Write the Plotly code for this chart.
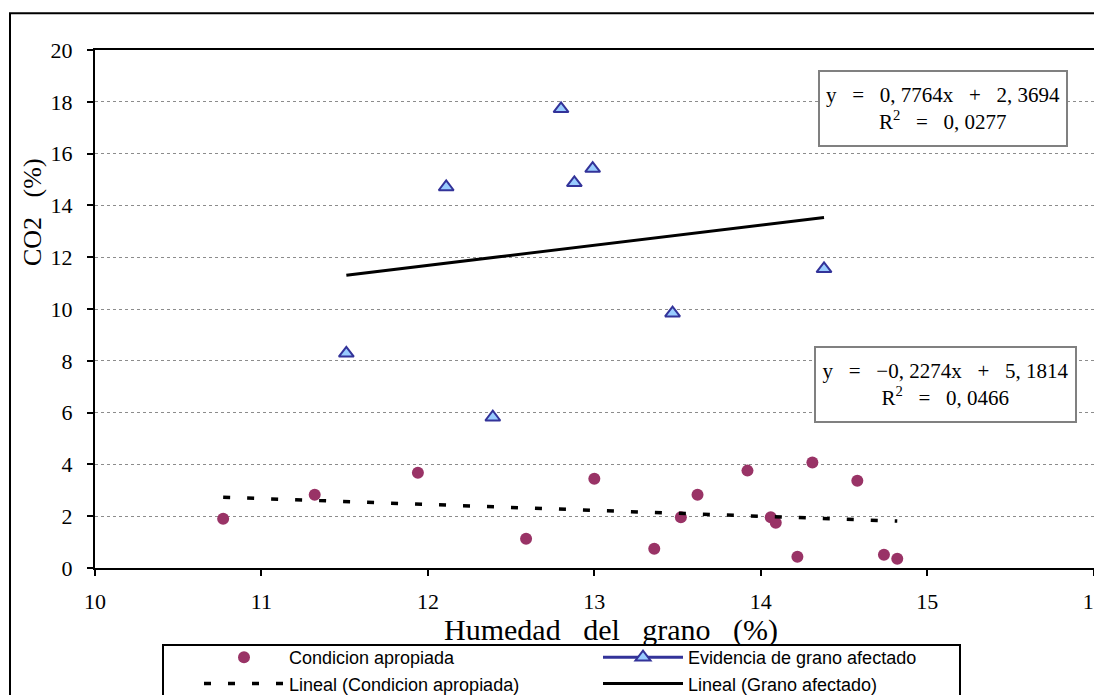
import plotly.graph_objects as go

# ---------------- data ----------------
hum_apropiada = [10.77, 11.32, 11.94, 12.59, 13.00, 13.36, 13.52, 13.62,
                 13.92, 14.06, 14.09, 14.22, 14.31, 14.58, 14.74, 14.82]
co2_apropiada = [1.90, 2.83, 3.68, 1.13, 3.45, 0.74, 1.96, 2.83,
                 3.76, 1.96, 1.75, 0.43, 4.07, 3.37, 0.51, 0.36]

hum_afectado = [11.51, 12.11, 12.39, 12.80, 12.88, 12.99, 13.47, 14.38]
co2_afectado = [8.29, 14.71, 5.82, 17.73, 14.87, 15.42, 9.84, 11.55]

# linear trend lines as printed on the chart
trend_apropiada = {"slope": -0.2274, "intercept": 5.1814, "r2": 0.0466}
trend_afectado = {"slope": 0.7764, "intercept": 2.3694, "r2": 0.0277}

x_ticks = [10, 11, 12, 13, 14, 15, 16]
y_ticks = [0, 2, 4, 6, 8, 10, 12, 14, 16, 18, 20]

names = ["Condicion apropiada", "Evidencia de grano afectado",
         "Lineal (Condicion apropiada)", "Lineal (Grano afectado)"]
x_title = "Humedad del grano (%)"
y_title = "CO2 (%)"

# ---------------- geometry helpers ----------------
W, H = 1094, 695
L, R, T, B = 95, 0, 50, 127
PW, PH = W - L - R, H - T - B


def px(x):
    return (x - L) / PW


def py(y):
    return (H - B - y) / PH


def trend_xy(xs, tr):
    xr = [min(xs), max(xs)]
    return xr, [tr["slope"] * v + tr["intercept"] for v in xr]


def num(v):
    s = f"{abs(v):.4f}".replace(".", ",\u00a0")
    return ("\u2212" if v < 0 else "") + s


def eq_text(tr):
    sp = "\u00a0\u00a0\u00a0"
    return (f"y{sp}={sp}{num(tr['slope'])}x{sp}+{sp}{num(tr['intercept'])}"
            f"<br>R<sup>2</sup>{sp}={sp}{num(tr['r2'])}")


SERIF = "Liberation Serif, Times New Roman, serif"
SANS = "Liberation Sans, Arial, sans-serif"

TRI = dict(symbol="triangle-up", size=13, color="#99CCFF",
           line=dict(color="#333399", width=2))

fig = go.Figure()

fig.add_trace(go.Scatter(
    x=hum_apropiada, y=co2_apropiada, mode="markers", name=names[0],
    marker=dict(symbol="circle", size=12, color="#993366",
                line=dict(width=0))))

# legend entry for the afectado series (Excel shows line + marker)
fig.add_trace(go.Scatter(
    x=[None], y=[None], mode="lines+markers", name=names[1],
    line=dict(color="#333399", width=3), marker=TRI))

xa, ya = trend_xy(hum_apropiada, trend_apropiada)
fig.add_trace(go.Scatter(
    x=xa, y=ya, mode="lines", name=names[2],
    line=dict(color="black", width=3.5, dash="7px,17px")))

xg, yg = trend_xy(hum_afectado, trend_afectado)
fig.add_trace(go.Scatter(
    x=xg, y=yg, mode="lines", name=names[3],
    line=dict(color="black", width=3)))

fig.add_trace(go.Scatter(
    x=hum_afectado, y=co2_afectado, mode="markers", name=names[1],
    showlegend=False, marker=TRI))

annotations = [
    dict(text=x_title.replace(" ", "\u00a0\u00a0\u00a0"), x=px(611), y=py(630),
         xref="paper", yref="paper", showarrow=False,
         xanchor="center", yanchor="middle",
         font=dict(family=SERIF, size=30, color="black")),
    dict(text=y_title.replace(" ", "\u00a0\u00a0\u00a0"), x=px(32), y=py(212),
         xref="paper", yref="paper", showarrow=False, textangle=-90,
         xanchor="center", yanchor="middle",
         font=dict(family=SERIF, size=26, color="black")),
    dict(text=eq_text(trend_afectado), x=px(943), y=py(108.5),
         xref="paper", yref="paper", showarrow=False,
         xanchor="center", yanchor="middle", width=244, height=71,
         bgcolor="white", bordercolor="#808080", borderwidth=2, borderpad=1,
         font=dict(family=SERIF, size=21, color="black")),
    dict(text=eq_text(trend_apropiada), x=px(945), y=py(385),
         xref="paper", yref="paper", showarrow=False,
         xanchor="center", yanchor="middle", width=257, height=71,
         bgcolor="white", bordercolor="#808080", borderwidth=2, borderpad=1,
         font=dict(family=SERIF, size=21, color="black")),
]

shapes = [
    # outer chart border
    dict(type="rect", xref="paper", yref="paper",
         x0=px(10), x1=px(1200), y0=py(800), y1=py(13.3),
         line=dict(color="black", width=2), layer="below"),
    # legend frame
    dict(type="rect", xref="paper", yref="paper",
         x0=px(163), x1=px(960), y0=py(720), y1=py(645),
         line=dict(color="black", width=2), fillcolor="white", layer="below"),
]

axis_font = dict(family=SERIF, size=22, color="black")

fig.update_layout(
    width=W, height=H,
    margin=dict(l=L, r=R, t=T, b=B, autoexpand=False),
    paper_bgcolor="white", plot_bgcolor="white",
    showlegend=True,
    annotations=annotations, shapes=shapes,
    xaxis=dict(range=[10, 16.002], tickvals=x_ticks, showgrid=False,
               zeroline=False, showline=True, linecolor="black", linewidth=2,
               mirror=True, ticks="outside", ticklen=6, tickwidth=2,
               tickcolor="black", tickfont=axis_font, ticklabelstandoff=7,
               ticklabeloverflow="allow",
               automargin=False, fixedrange=True),
    yaxis=dict(range=[0, 20], tickvals=y_ticks, showgrid=True,
               gridcolor="#8c8c8c", griddash="dot", gridwidth=1,
               zeroline=False, showline=True, linecolor="black", linewidth=2,
               ticks="outside", ticklen=6, tickwidth=2, tickcolor="black",
               tickfont=axis_font, ticklabelstandoff=10, automargin=False,
               fixedrange=True),
    legend=dict(orientation="h", x=px(199), y=py(639), xanchor="left",
                yanchor="top", borderwidth=0, bgcolor="rgba(0,0,0,0)",
                font=dict(family=SANS, size=18, color="black"),
                entrywidth=304, entrywidthmode="pixels", itemwidth=80,
                traceorder="normal"),
)

fig.write_html("out.html", config={"displayModeBar": False},
               post_script="document.body.style.margin='0';")
